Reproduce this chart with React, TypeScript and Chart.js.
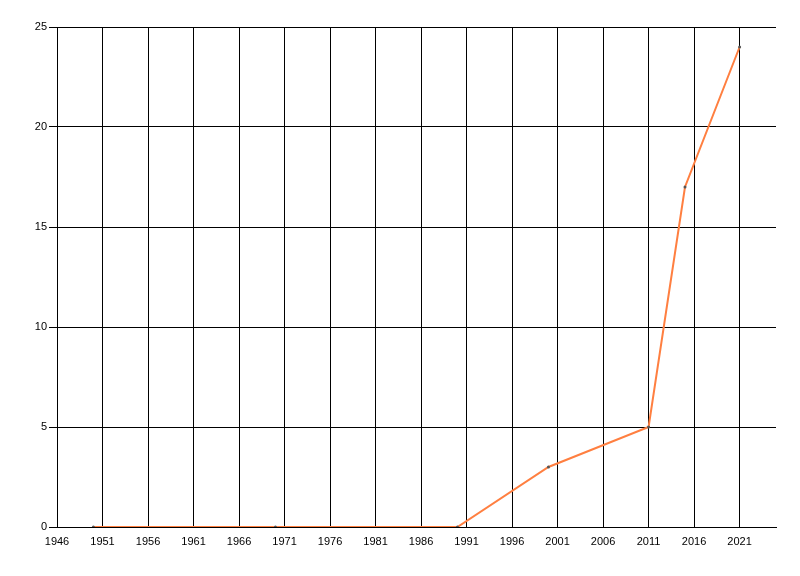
import React, { useEffect, useRef } from "react";
import { Chart, registerables } from "chart.js";

Chart.register(...registerables);

const years = [1950, 1970, 1990, 2000, 2011, 2015, 2021];
const values = [0, 0, 0, 3, 5, 17, 24];
const xTicks = [1946, 1951, 1956, 1961, 1966, 1971, 1976, 1981, 1986, 1991, 1996, 2001, 2006, 2011, 2016, 2021];
const yTicks = [0, 5, 10, 15, 20, 25];

export default function App() {
  const ref = useRef<HTMLCanvasElement>(null);
  useEffect(() => {
    if (!ref.current) return;
    const chart = new Chart(ref.current, {
      type: "line",
      data: {
        datasets: [
          {
            data: years.map((y, i) => ({ x: y, y: values[i] })),
            borderColor: "#ff7f40",
            borderWidth: 2,
            pointRadius: 1.5,
            pointBackgroundColor: "#555555",
            pointBorderColor: "#555555",
            pointBorderWidth: 0,
            tension: 0,
          },
        ],
      },
      options: {
        animation: false,
        responsive: false,
        maintainAspectRatio: false,
        layout: { padding: { top: 27, right: 24, left: 0, bottom: 0 } },
        plugins: { legend: { display: false }, tooltip: { enabled: false } },
        scales: {
          x: {
            type: "linear",
            min: 1946,
            max: 2025,
            afterBuildTicks: (scale: any) => {
              scale.ticks = xTicks.map((v) => ({ value: v }));
            },
            afterFit: (scale: any) => {
              scale.height = 49;
            },
            grid: { color: "#000000", lineWidth: 1, drawTicks: false },
            border: { color: "#000000", width: 1 },
            ticks: {
              color: "#000000",
              padding: 8,
              maxRotation: 0,
              autoSkip: false,
              font: { family: "'Liberation Sans', Arial, sans-serif", size: 11 },
              callback: (v: any) => String(v),
            },
          },
          y: {
            min: 0,
            max: 25,
            afterBuildTicks: (scale: any) => {
              scale.ticks = yTicks.map((v) => ({ value: v }));
            },
            afterFit: (scale: any) => {
              scale.width = 57;
            },
            grid: { color: "#000000", lineWidth: 1, drawTicks: true, tickLength: 8 },
            border: { color: "#000000", width: 1 },
            ticks: {
              color: "#000000",
              padding: 2,
              font: { family: "'Liberation Sans', Arial, sans-serif", size: 11 },
            },
          },
        },
      },
    });
    return () => chart.destroy();
  }, []);
  return (
    <div style={{ position: "fixed", left: 0, top: 0, width: 800, height: 576, background: "#ffffff" }}>
      <canvas ref={ref} width={800} height={576} style={{ width: 800, height: 576 }} />
    </div>
  );
}
